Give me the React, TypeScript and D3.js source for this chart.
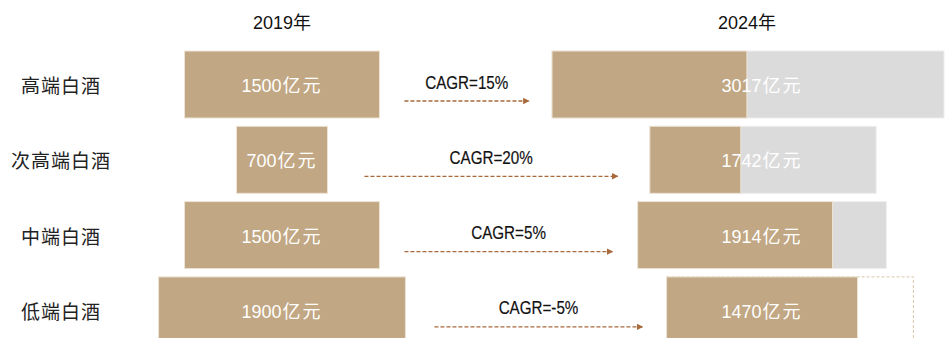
import React from "react";
import * as d3 from "d3";

const categories = ["高端白酒", "次高端白酒", "中端白酒", "低端白酒"];
const values2019 = [1500, 700, 1500, 1900];
const values2024 = [3017, 1742, 1914, 1470];
const cagrLabels = ["CAGR=15%", "CAGR=20%", "CAGR=5%", "CAGR=-5%"];
const yearLabels = ["2019年", "2024年"];
const unit = "亿元";

// layout nudges (px) of the 2024 bars relative to the 2024 column centre
const rightShift = [-14, 1, 0, 28];
// layout nudges (px) of arrow ends
const arrowPad = [
  [25, 23],
  [37, 32],
  [25, 25],
  [29, 24],
];

const W = 947;
const H = 338;
const TAN = "#C1A783";
const GREY = "#DBDBDB";
const ARROW = "#A8693D";

export default function App() {
  const y = d3
    .scaleBand<string>()
    .domain(categories)
    .range([51, 51 + 4 * 75.3 - 8.3])
    .paddingInner(0.11)
    .paddingOuter(0);
  const w = d3.scaleLinear().domain([0, 3017]).range([0, 392]);
  const leftC = 282;
  const rightC = 762;
  const bw = y.bandwidth();
  const numFont = "'Liberation Sans', Arial, 'Noto Sans CJK SC', sans-serif";
  const cjkFont = "'Noto Sans CJK SC', sans-serif";
  const narrow = "'Liberation Sans', Arial, sans-serif";

  return (
    <svg width={W} height={H} style={{ position: "absolute", left: 0, top: 0, background: "#fff" }}>
      <defs>
        <marker id="ah" viewBox="0 0 10 10" refX="9" refY="5" markerWidth="5" markerHeight="5" orient="auto">
          <path d="M0,0 L10,5 L0,10 z" fill={ARROW} />
        </marker>
      </defs>
      <text x={leftC} y={29} textAnchor="middle" fontSize={18} fontFamily={numFont} fill="#111">
        {yearLabels[0]}
      </text>
      <text x={747} y={29} textAnchor="middle" fontSize={18} fontFamily={numFont} fill="#111">
        {yearLabels[1]}
      </text>
      {categories.map((c, i) => {
        const y0 = y(c)!;
        const cy = y0 + bw / 2;
        const lw = w(values2019[i]);
        const lx = leftC - lw / 2;
        const v24 = values2024[i];
        const v19 = values2019[i];
        const total = Math.max(v24, v19);
        const tw = w(total);
        const rx = rightC + rightShift[i] - tw / 2;
        const tanW = w(Math.min(v24, v19));
        const ax0 = lx + lw + arrowPad[i][0];
        const ax1 = rx - arrowPad[i][1];
        const tx = (ax0 + ax1) / 2;
        return (
          <g key={c}>
            <text x={61} y={cy + 8.5} textAnchor="middle" fontSize={19} fontFamily={cjkFont} fill="#222" letterSpacing={1}>
              {c}
            </text>
            <rect x={lx} y={y0} width={lw} height={bw} fill={TAN} stroke="#EDE4D6" strokeWidth={1} />
            <text x={leftC} y={cy + 7.5} textAnchor="middle" fontSize={18} fontFamily={numFont} fill="#fff">
              {v19}
              <tspan dx={1} letterSpacing={2}>{unit}</tspan>
            </text>
            {v24 > v19 && (
              <rect x={rx} y={y0} width={tw} height={bw} fill={GREY} stroke="#EEEEEE" strokeWidth={1} />
            )}
            {v24 < v19 && (
              <rect x={rx} y={y0} width={tw} height={bw} fill="none" stroke="#DCC6A8" strokeWidth={1} strokeDasharray="3,2" />
            )}
            <rect x={rx} y={y0} width={tanW} height={bw} fill={TAN} stroke="#EDE4D6" strokeWidth={1} />
            <text x={rightC} y={cy + 7.5} textAnchor="middle" fontSize={18} fontFamily={numFont} fill="#fff">
              {v24}
              <tspan dx={1} letterSpacing={2}>{unit}</tspan>
            </text>
            <line x1={ax0} x2={ax1} y1={cy + 16.5} y2={cy + 16.5} stroke={ARROW} strokeWidth={1.3} strokeDasharray="4,2" markerEnd="url(#ah)" />
            <g transform={`translate(${tx},${cy + 4}) scale(0.8,1)`}>
              <text x={0} y={0} textAnchor="middle" fontSize={19} fontFamily={narrow} fill="#111" stroke="#111" strokeWidth={0.2}>
                {cagrLabels[i]}
              </text>
            </g>
          </g>
        );
      })}
    </svg>
  );
}
